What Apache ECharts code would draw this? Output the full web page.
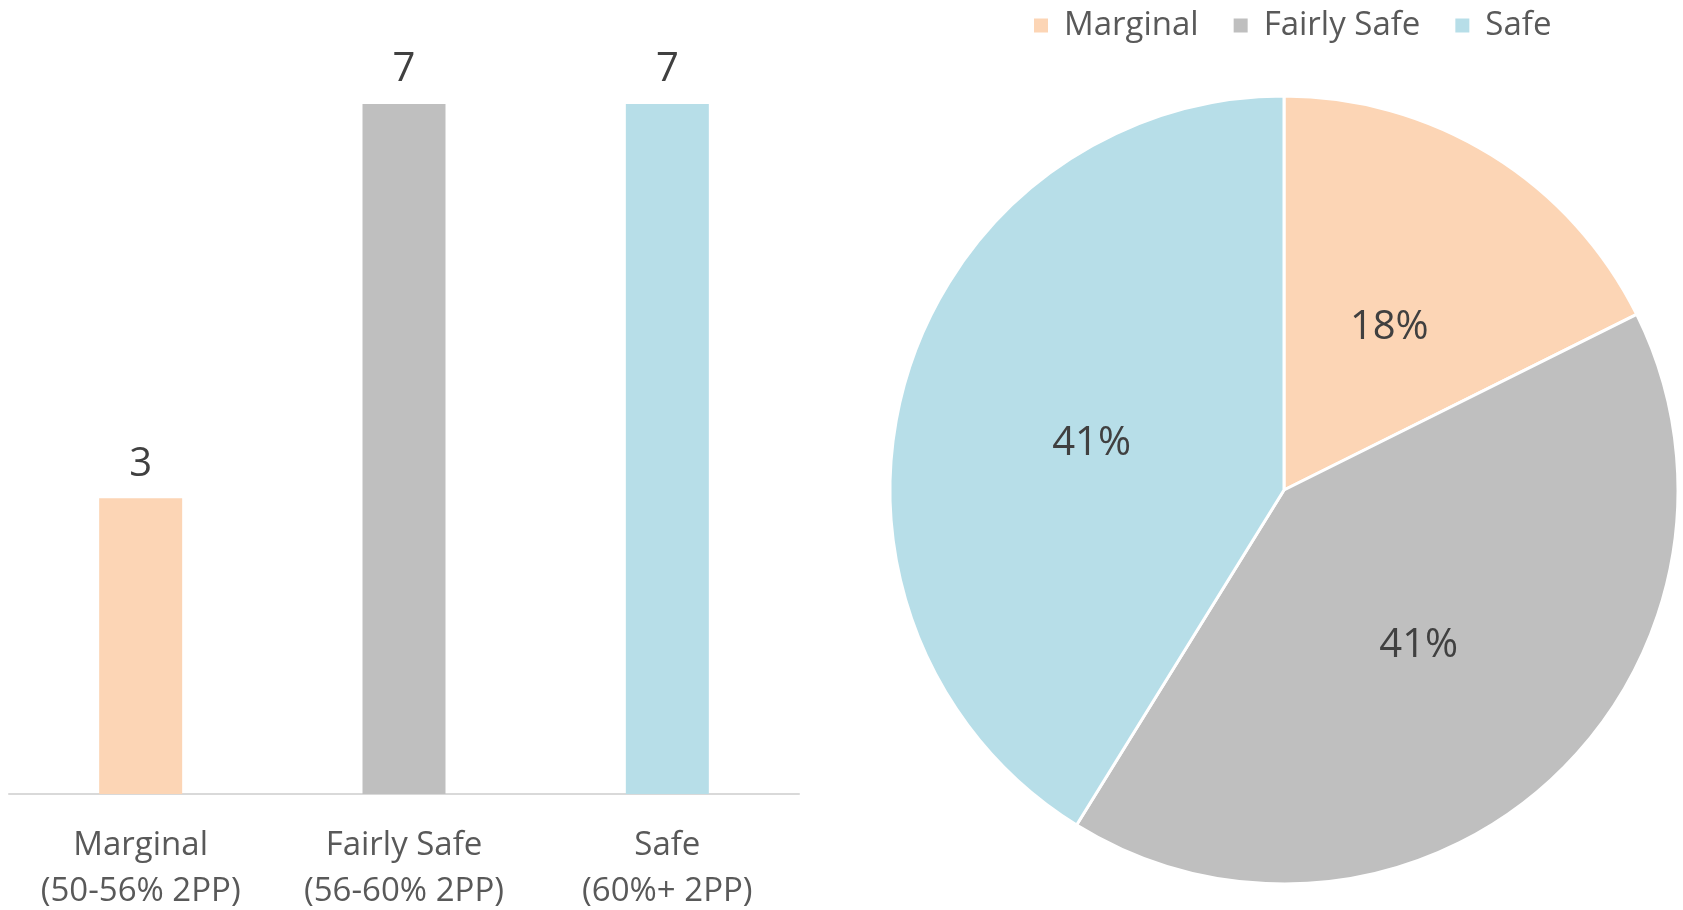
<!DOCTYPE html>
<html>
<head>
<meta charset="utf-8">
<script src="https://cdn.jsdelivr.net/npm/echarts@6/dist/echarts.min.js"></script>
<style>
html,body{margin:0;padding:0;background:#fff;}
#chart{width:1683px;height:910px;}
</style>
</head>
<body>
<div id="chart"></div>
<script>
const categories = ['Marginal', 'Fairly Safe', 'Safe'];
const ranges = ['(50-56% 2PP)', '(56-60% 2PP)', '(60%+ 2PP)'];
const seats = [3, 7, 7];
const palette = ['#FCD5B5', '#BFBFBF', '#B7DEE8'];

const FONT = 'Open Sans';
const chart = echarts.init(document.getElementById('chart'), null, {renderer: 'canvas'});

chart.setOption({
  animation: false,
  backgroundColor: '#ffffff',
  textStyle: {fontFamily: FONT},
  legend: {
    data: categories,
    left: 1027,
    top: 4,
    icon: 'rect',
    itemWidth: 16,
    itemHeight: 16,
    itemGap: 33,
    textStyle: {fontFamily: FONT, fontSize: 33, color: '#595959', padding: [0, 0, 0, 10]}
  },
  grid: {left: 9, right: 884, top: 104, bottom: 116, containLabel: false, outerBoundsMode: 'none'},
  xAxis: {
    type: 'category',
    data: categories.map((c, i) => c + '\n' + ranges[i]),
    axisLine: {show: true, lineStyle: {color: '#D9D9D9', width: 2}},
    axisTick: {show: false},
    axisLabel: {fontFamily: FONT, fontSize: 33, color: '#595959', lineHeight: 46, margin: 29, interval: 0}
  },
  yAxis: {
    type: 'value', min: 0, max: 7, show: false,
    splitLine: {show: false}
  },
  series: [
    {
      type: 'bar',
      barWidth: 83,
      data: seats.map((v, i) => ({value: v, itemStyle: {color: palette[i]}})),
      label: {show: true, position: 'top', distance: 14, fontFamily: FONT, fontSize: 40, color: '#404040'}
    },
    {
      type: 'pie',
      center: [1284, 490],
      radius: [0, 394],
      startAngle: 90,
      clockwise: true,
      percentPrecision: 0,
      data: categories.map((c, i) => ({name: c, value: seats[i], itemStyle: {color: palette[i]}})),
      itemStyle: {borderColor: '#ffffff', borderWidth: 3},
      label: {show: true, position: 'inside', formatter: '{d}%', fontFamily: FONT, fontSize: 40, color: '#404040', offset: [0, 8]},
      labelLine: {show: false},
      emphasis: {disabled: true}
    }
  ]
});
</script>
</body>
</html>
